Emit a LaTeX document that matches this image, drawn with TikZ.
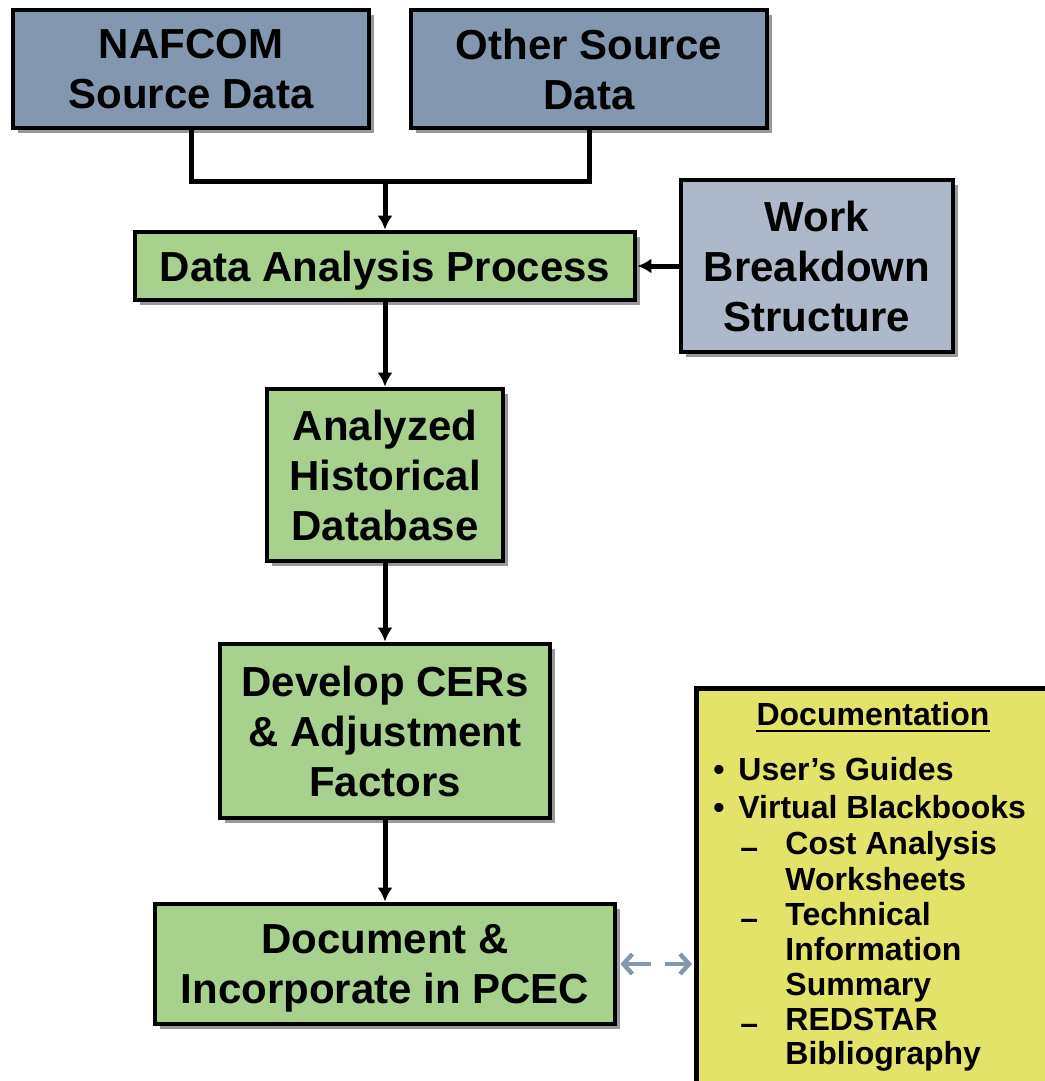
\documentclass[tikz,border=0pt]{standalone}
\usepackage{fontspec}
\setmainfont{Liberation Sans}
\usetikzlibrary{arrows.meta,shadows}
\definecolor{srcblue}{HTML}{8497B0}
\definecolor{wbsblue}{HTML}{ADB9CA}
\definecolor{procgreen}{HTML}{A9D18E}
\definecolor{docyellow}{HTML}{E3E36A}
\begin{document}
\begin{tikzpicture}[x=0.5pt,y=-0.5pt]
\tikzset{box style/.style={shape=rectangle,draw=black,line width=2.4pt,align=center,inner sep=0pt,
    font=\fontsize{21}{25}\selectfont\bfseries,
    drop shadow={shadow xshift=2.5pt,shadow yshift=-2.5pt,opacity=0.4,fill=black}}}
\tikzset{text style/.style={inner sep=0pt,anchor=base west,font=\fontsize{16}{19}\selectfont\bfseries}}
\tikzset{line style/.style={draw=black,line width=2.5pt,-{Latex[length=7pt,width=7.5pt]}}}
\tikzset{link style/.style={draw=srcblue,line width=2.2pt,-{Straight Barb[length=4.5pt,width=10pt]}}}

\useasboundingbox (0,0) rectangle (1044,1081);

\node[box style, fill=srcblue, minimum width=178pt, minimum height=59pt] at (191, 69)    (1) {NAFCOM\\Source Data};
\node[box style, fill=srcblue, minimum width=178pt, minimum height=59pt] at (589, 69)    (2) {Other Source\\Data};
\node[box style, fill=procgreen, minimum width=250pt, minimum height=34pt, text depth=0pt] at (385, 266) (3) {Data Analysis Process};
\node[box style, fill=wbsblue, minimum width=136pt, minimum height=86pt] at (817, 266) (4) {Work\\Breakdown\\Structure};
\node[box style, fill=procgreen, minimum width=118pt, minimum height=86pt] at (385, 475) (5) {Analyzed\\Historical\\Database};
\node[box style, fill=procgreen, minimum width=165pt, minimum height=87pt] at (385, 731) (6) {Develop CERs\\\&~Adjustment\\Factors};
\node[box style, fill=procgreen, minimum width=230pt, minimum height=60pt, text depth=0pt] at (385, 964) (7) {Document \&\\Incorporate in PCEC};
\node[box style, fill=docyellow, anchor=north west, minimum width=215pt, minimum height=215pt] at (694, 686) (8) {};

\coordinate (j) at (385, 181);
\coordinate (m1) at (651, 964);
\coordinate (m2) at (665, 964);

% documentation list
\node[text style, anchor=base] at (873, 725) (d0) {Documentation};
\draw[line width=1pt] ([yshift=-3pt]d0.base west) -- ([yshift=-3pt]d0.base east);
\node[text style] at (713, 780)  (d1) {\makebox[12.5pt][l]{\textbullet}User’s Guides};
\node[text style] at (713, 818)  (d2) {\makebox[12.5pt][l]{\textbullet}Virtual Blackbooks};
\node[text style] at (740, 854)  (d3) {\makebox[22.5pt][l]{\raisebox{-2pt}{–}}Cost Analysis};
\node[text style] at (785, 890)  (d4) {Worksheets};
\node[text style] at (740, 925)  (d5) {\makebox[22.5pt][l]{\raisebox{-2pt}{–}}Technical};
\node[text style] at (785, 960)  (d6) {Information};
\node[text style] at (785, 995)  (d7) {Summary};
\node[text style] at (740, 1030) (d8) {\makebox[22.5pt][l]{\raisebox{-2pt}{–}}REDSTAR};
\node[text style] at (785, 1064) (d9) {Bibliography};

\draw[line width=2.5pt] (1.south) |- (j) -| (2.south);
\draw[line style] (j) -- (3);
\draw[line style] (4) -- (3);
\draw[line style] (3) -- (5);
\draw[line style] (5) -- (6);
\draw[line style] (6) -- (7);

\draw[link style, shorten >=1.5pt] (m1) -- (7.east);
\draw[link style, shorten >=1pt] (m2) -- (8.west |- m2);
\end{tikzpicture}
\end{document}
